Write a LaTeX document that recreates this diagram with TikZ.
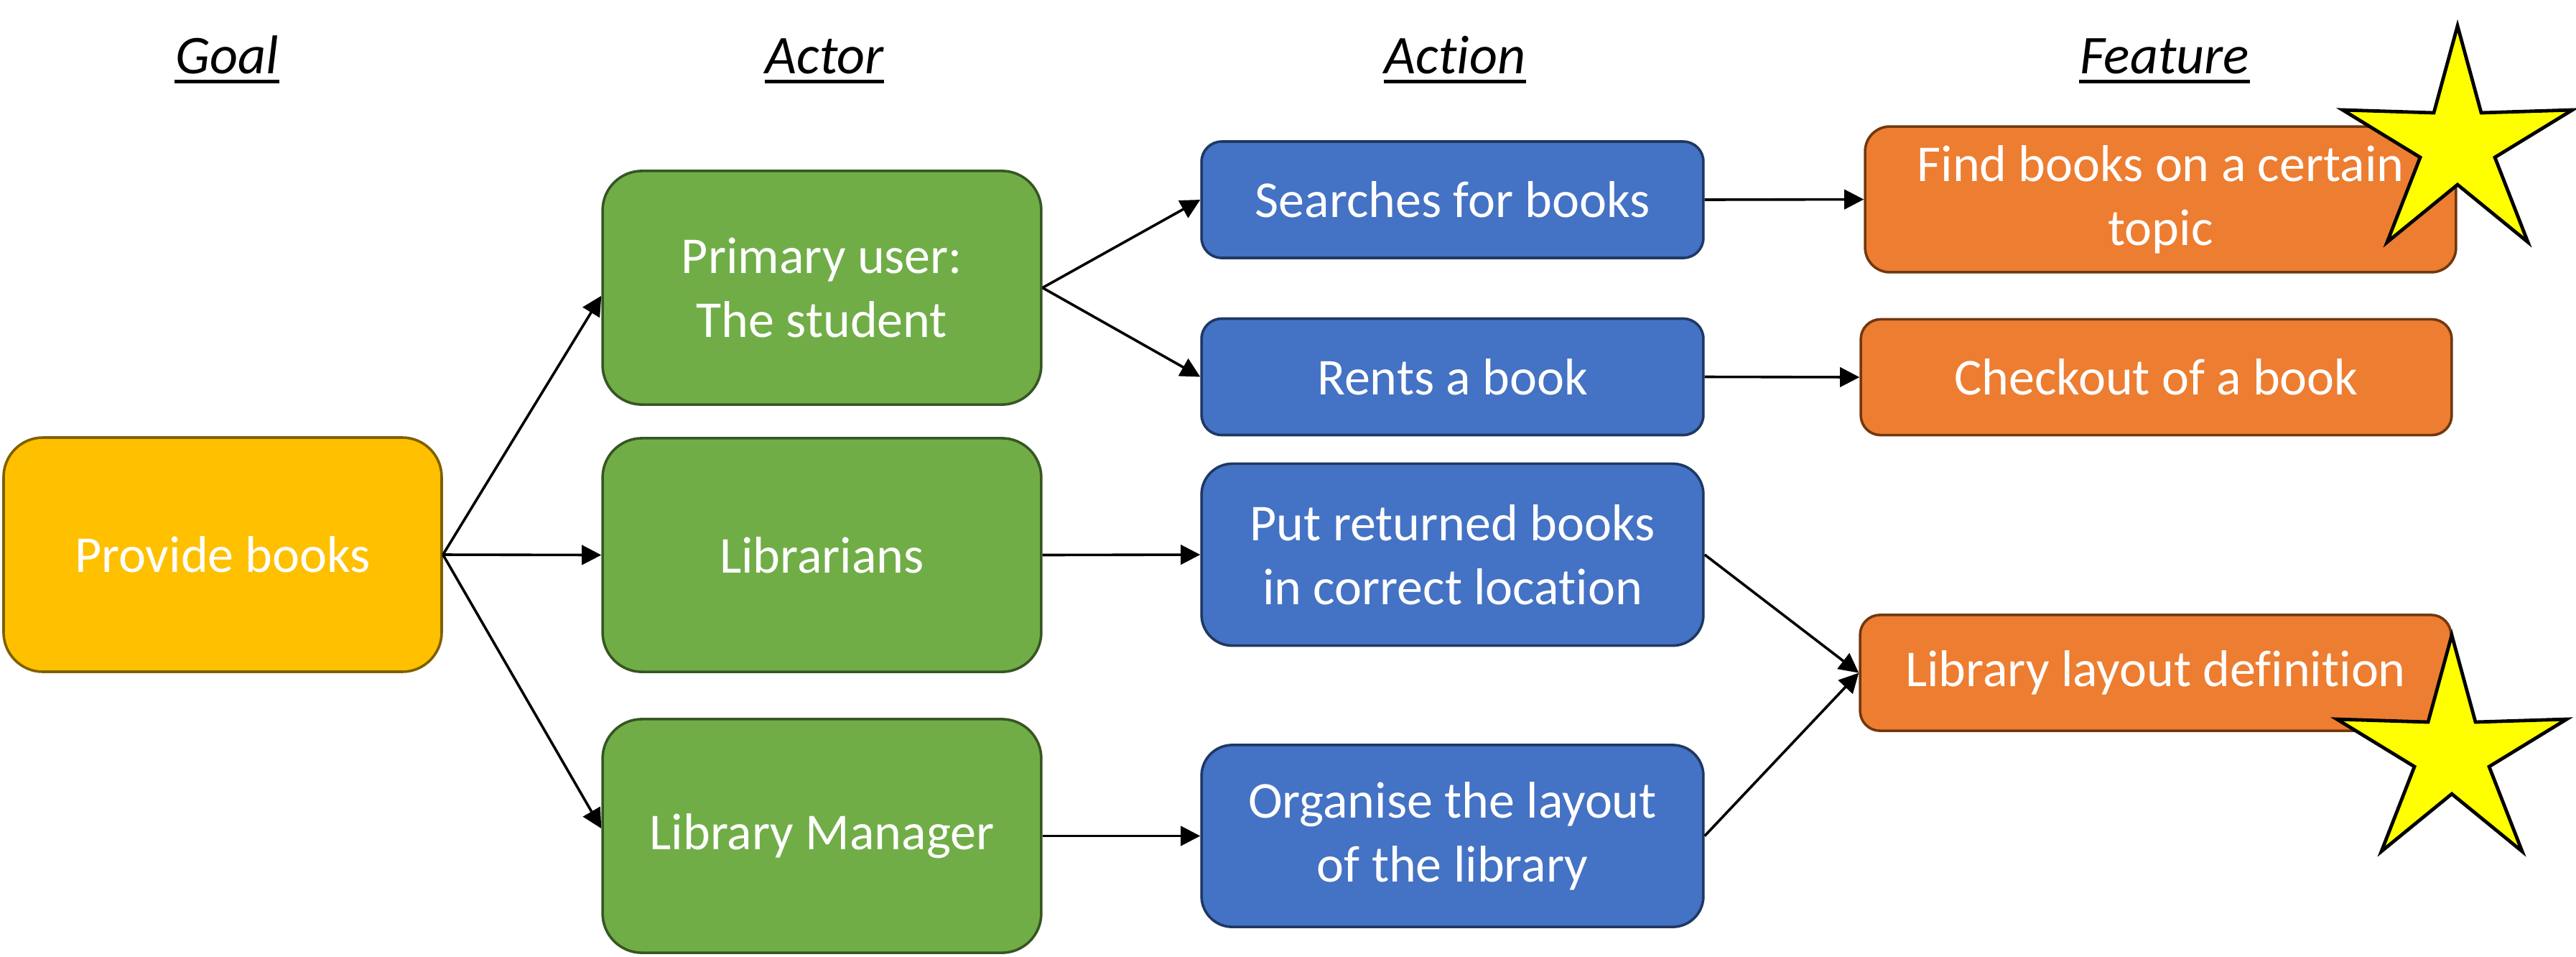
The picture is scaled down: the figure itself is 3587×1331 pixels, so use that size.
\documentclass[tikz,border=0pt]{standalone}
\usepackage{fontspec}
\setmainfont{Carlito}[Ligatures=NoCommon]
\usetikzlibrary{arrows.meta}
\definecolor{goalfill}{HTML}{FFC000}
\definecolor{goalline}{HTML}{7F6000}
\definecolor{actfill}{HTML}{70AD47}
\definecolor{actline}{HTML}{375623}
\definecolor{actnfill}{HTML}{4472C4}
\definecolor{actnline}{HTML}{1F3864}
\definecolor{featfill}{HTML}{ED7D31}
\definecolor{featline}{HTML}{70380F}
\definecolor{starfill}{HTML}{FFFF00}
\begin{document}
\begin{tikzpicture}[x=0.25pt,y=-0.25pt,
  box/.style={draw, line width=0.9pt, text=white, align=center,
    font=\fontsize{18}{22.2}\selectfont, inner sep=0pt},
  goalbox/.style={box, fill=goalfill, draw=goalline, minimum width=152.5pt, minimum height=81.5pt, rounded corners=13.7pt},
  actorbox/.style={box, fill=actfill, draw=actline, minimum width=152.7pt, minimum height=81.3pt, rounded corners=13.7pt},
  actionbox/.style={box, fill=actnfill, draw=actnline, minimum width=174.7pt, minimum height=40.5pt, rounded corners=7pt},
  actiontall/.style={actionbox, minimum height=63.3pt, rounded corners=10.7pt},
  featbox/.style={box, fill=featfill, draw=featline, minimum width=205.7pt, minimum height=40.3pt, rounded corners=6.9pt},
  feattall/.style={featbox, minimum height=50.7pt, rounded corners=8.6pt},
  hdr/.style={font=\itshape\fontsize{19}{23}\selectfont, inner sep=0pt, anchor=base},
  uline/.style={line width=1.2pt},
  conn/.style={line width=0.9pt, -{Triangle[length=6.8pt, width=6.8pt]}},
  starst/.style={draw=black, fill=starfill, line width=1.2pt}
]
\useasboundingbox (0,0) rectangle (3587,1331);

% headers
\node[hdr] (hgoal) at (316,102) {Goal};
\node[hdr] (hactor) at (1148,102) {Actor};
\node[hdr] (haction) at (2026,102) {Action};
\node[hdr] (hfeat) at (3014,102) {Feature};
\foreach \h in {hgoal,hactor,haction,hfeat}
  \draw[uline] ([yshift=-2.9pt]\h.base west) -- ([yshift=-2.9pt]\h.base east);

% boxes
\node[goalbox] (goal) at (310,772) {Provide books};
\node[actorbox] (prim) at (1144.5,400.5) {Primary user:\\The student};
\node[actorbox] (libr) at (1144.5,772.5) {Librarians};
\node[actorbox] (mgr) at (1144.5,1163.5) {Library Manager};
\node[actionbox] (search) at (2022.5,278) {Searches for books};
\node[actionbox] (rents) at (2022.5,524.5) {Rents a book};
\node[actiontall] (put) at (2022.5,772) {Put returned books\\in correct location};
\node[actiontall] (org) at (2022.5,1163.5) {Organise the layout\\of the library};
\node[feattall] (find) at (3008.5,277.5) {Find books on a certain\\topic};
\node[featbox] (check) at (3002.5,525) {Checkout of a book};
\node[featbox] (layout) at (3001.5,936.5) {Library layout definition};

% connectors
\draw[conn] (goal.east) -- ([yshift=-2.8pt]prim.west);
\draw[conn] (goal.east) -- (libr.west);
\draw[conn] (goal.east) -- ([yshift=2.6pt]mgr.west);
\draw[conn] (prim.east) -- (search.west);
\draw[conn] (prim.east) -- (rents.west);
\draw[conn] (libr.east) -- (put.west);
\draw[conn] (mgr.east) -- (org.west);
\draw[conn] (search.east) -- (find.west);
\draw[conn] (rents.east) -- (check.west);
\draw[conn] (put.east) -- (layout.west);
\draw[conn] (org.east) -- (layout.west);

% stars
\begin{scope}[shift={(3422,36)}]
  \draw[starst] (0,0) -- (33,121) -- (160,117) -- (52,183) -- (98,301) -- (0,221)
    -- (-98,301) -- (-52,183) -- (-160,117) -- (-33,121) -- cycle;
\end{scope}
\begin{scope}[shift={(3414,884)}]
  \draw[starst] (0,0) -- (33,121) -- (160,117) -- (52,183) -- (98,301) -- (0,221)
    -- (-98,301) -- (-52,183) -- (-160,117) -- (-33,121) -- cycle;
\end{scope}
\end{tikzpicture}
\end{document}
